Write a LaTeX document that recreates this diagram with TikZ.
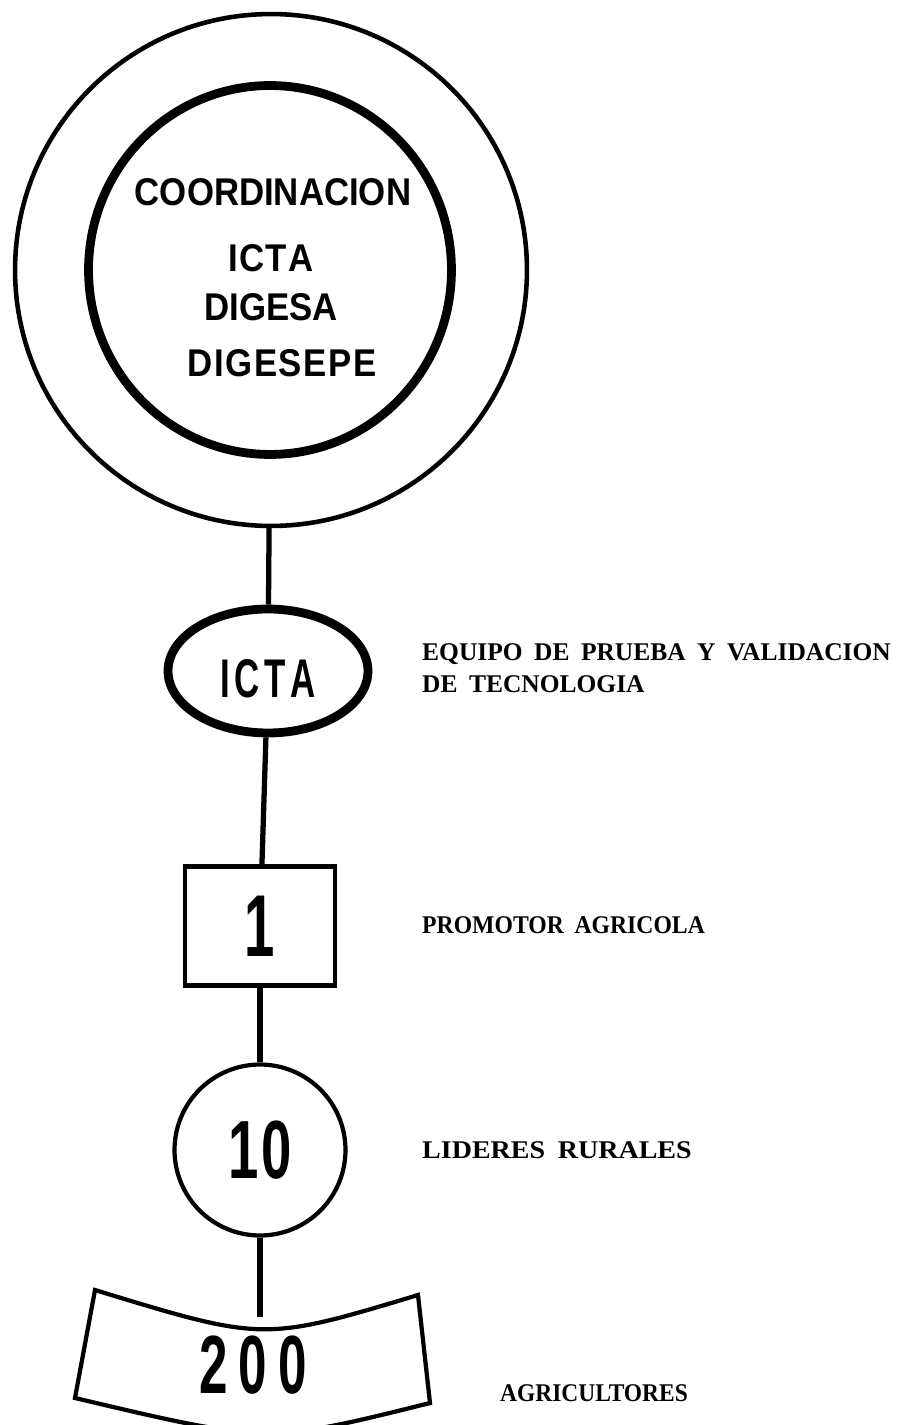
\documentclass[tikz,border=0pt]{standalone}
\usepackage{fontspec}
\setmainfont{Liberation Serif}
\setsansfont{Liberation Sans}
\newfontfamily\rolefont[WordSpace=1.8]{Liberation Serif}
\usetikzlibrary{shapes.geometric}

\begin{document}
\begin{tikzpicture}[x=0.02cm, y=-0.02cm,
		ring/.style = {draw, circle, line width=2.6pt, minimum size=10.24cm},
		core/.style = {draw, ellipse, line width=5pt, minimum width=7.26cm, minimum height=7.38cm},
		member/.style = {font=\sffamily\bfseries\fontsize{22}{22}\selectfont},
		oval/.style = {draw, ellipse, line width=5pt, minimum width=4.0cm, minimum height=2.48cm},
		box/.style = {draw, rectangle, line width=2.4pt, minimum width=3.0cm, minimum height=2.38cm, font=\sffamily\bfseries\fontsize{50}{50}\selectfont},
		disc/.style = {draw, circle, line width=2.4pt, minimum size=3.42cm, font=\sffamily\bfseries\fontsize{47}{47}\selectfont},
		num/.style = {font=\sffamily\bfseries\fontsize{47}{47}\selectfont},
		role/.style = {anchor=west, align=left, font=\rolefont\bfseries\fontsize{14.5}{18}\selectfont},
		link/.style = {line width=3pt}]
	\useasboundingbox (0,0) rectangle (906,1425);
	% coordination rings
	\node[ring] (coord) at (271,270) {};
	\node[core] (core) at (270,270) {};
	\node[member] (coordtxt) at (273,192) {\scalebox{0.9}[1]{COORDINACION}};
	\node[member] (ictatxt) at (271,258) {\scalebox{0.9}[1]{I\kern1ptC\kern1ptT\kern1ptA}};
	\node[member] (digesa) at (271,307) {\scalebox{0.9}[1]{DIGESA}};
	\node[member] (digesepe) at (282,363) {\scalebox{0.9}[1]{D\kern1ptI\kern1ptG\kern1ptE\kern1ptS\kern1ptE\kern1ptP\kern1ptE}};
	% chain
	\node[oval] (icta) at (268,671) {};
	\node (ictaname) at (268,679) {\sffamily\bfseries\fontsize{31}{31}\selectfont\scalebox{0.64}[1]{I\kern4ptC\kern4ptT\kern4ptA}};
	\node[box] (promo) at (260,926) {\scalebox{0.62}[1]{1}};
	\node[disc] (lead) at (260,1150) {\raisebox{-4pt}{\scalebox{0.66}[1]{1\kern2pt0}}};
	% farmers
	\coordinate (tl) at (95,1290);
	\coordinate (top) at (260,1317);
	\coordinate (tr) at (418,1295);
	\coordinate (br) at (430,1403);
	\coordinate (bl) at (75,1398);
	\draw[link, line width=2.4pt] (tl) .. controls (263.5,1341.5) .. (tr) -- (br)
		.. controls (267.5,1443.5) .. (bl) -- cycle;
	\node[num] (agri) at (253,1365) {\scalebox{0.62}[1]{2\kern0.22em0\kern0.22em0}};
	\draw[link] (coord) -- (icta);
	\draw[link] (icta) -- (promo);
	\draw[link] (promo) -- (lead);
	\draw[link] (lead) -- (top);
	% roles
	\node[role] (team) at (416,668) {EQUIPO DE PRUEBA Y VALIDACION\\DE TECNOLOGIA};
	\node[role] (promotxt) at (416,925) {\scalebox{0.93}[1]{PROMOTOR AGRICOLA}};
	\node[role] (leadtxt) at (416,1150) {\scalebox{1.1}[1]{LIDERES RURALES}};
	\node[role] (agritxt) at (494,1393) {\scalebox{0.92}[1]{AGRICULTORES}};
\end{tikzpicture}
\end{document}
